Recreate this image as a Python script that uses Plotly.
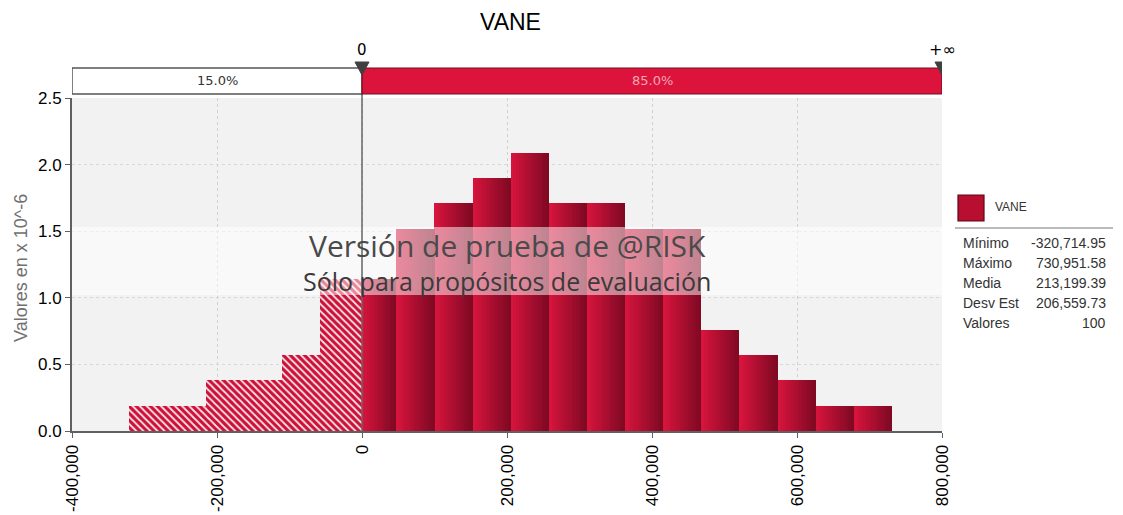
import plotly.graph_objects as go

# ---------------- data ----------------
title_text = "VANE"
stat_min = -320714.95
stat_max = 730951.58
stat_labels = ["Mínimo", "Máximo", "Media", "Desv Est", "Valores"]
stat_values = ["-320,714.95", "730,951.58", "213,199.39", "206,559.73", "100"]
n_bins = 20
# bar heights (density, in units of 10^-6)
heights = [0.19, 0.19, 0.38, 0.38, 0.57, 1.14, 1.14, 1.52, 1.71, 1.90,
           2.09, 1.71, 1.71, 1.52, 1.52, 0.76, 0.57, 0.38, 0.19, 0.19]
threshold = 0
pct_left = "15.0%"
pct_right = "85.0%"
x_range = [-400000, 800000]
x_ticks = [-400000, -200000, 0, 200000, 400000, 600000, 800000]
y_range = [0, 2.5]
y_ticks = [0.0, 0.5, 1.0, 1.5, 2.0, 2.5]
y_title = "Valores en x 10^-6"
watermark1 = "Versión de prueba de @RISK"
watermark2 = "Sólo para propósitos de evaluación"

# ---------------- layout geometry (page pixels) ----------------
W, H = 1123, 515
OFF = 8  # page body margin offset
L, R, T, B = 72, 942, 98, 431


def pxx(p):
    return (p - L) / (R - L)


def pxy(p):
    return (B - p) / (B - T)


bw = (stat_max - stat_min) / n_bins
edges = [stat_min + i * bw for i in range(n_bins + 1)]

# split bins into hatched (below threshold) and solid (above) segments
hatched, solid = [], []
for i, h in enumerate(heights):
    a, b = edges[i], edges[i + 1]
    if b <= threshold:
        hatched.append((a, b, h))
    elif a >= threshold:
        solid.append((a, b, h))
    else:
        hatched.append((a, threshold, h))
        solid.append((threshold, b, h))

fig = go.Figure()

# gradient solid bars (drawn as vertical strips)
K = 14
c0 = (214, 20, 60)
c1 = (128, 9, 35)
for k in range(K):
    t = k / (K - 1)
    col = "rgb(%d,%d,%d)" % tuple(round(c0[j] + (c1[j] - c0[j]) * t) for j in range(3))
    xs, ws, ys = [], [], []
    for a, b, h in solid:
        sw = (b - a) / K
        xs.append(a + sw * (k + 0.5))
        ws.append(sw * 1.03)
        ys.append(h)
    fig.add_trace(go.Bar(x=xs, y=ys, width=ws, marker=dict(color=col, line=dict(width=0)),
                         showlegend=False, hoverinfo="skip"))

# hatched bars (below threshold)
fig.add_trace(go.Bar(
    x=[(a + b) / 2 for a, b, h in hatched],
    y=[h for a, b, h in hatched],
    width=[b - a for a, b, h in hatched],
    marker=dict(color="#CC1038", line=dict(width=0),
                pattern=dict(shape="\\", fgcolor="white", bgcolor="#CC1038",
                             size=5, solidity=0.35, fgopacity=0.9)),
    showlegend=False, hoverinfo="skip"))

shapes = []
# watermark band
shapes.append(dict(type="rect", xref="paper", yref="paper", x0=0, x1=1,
                   y0=pxy(295), y1=pxy(227), fillcolor="rgba(255,255,255,0.5)",
                   line=dict(width=0), layer="above"))
# threshold vertical line
shapes.append(dict(type="line", xref="x", yref="paper", x0=threshold, x1=threshold,
                   y0=0, y1=pxy(68), line=dict(color="#666666", width=1.5), layer="above"))
# top percentage bar
shapes.append(dict(type="rect", xref="x", yref="paper", x0=x_range[0], x1=threshold,
                   y0=pxy(94), y1=pxy(68), fillcolor="white",
                   line=dict(color="#555555", width=1.5)))
shapes.append(dict(type="rect", xref="x", yref="paper", x0=threshold, x1=x_range[1],
                   y0=pxy(94), y1=pxy(68), fillcolor="#DC143C",
                   line=dict(color="#6E1020", width=1.2)))
# threshold triangles
for xv in [threshold, x_range[1]]:
    shapes.append(dict(type="path", xref="x", yref="paper", xsizemode="pixel", ysizemode="pixel",
                       xanchor=xv, yanchor=pxy(62),
                       path="M -7,0 L 7,0 L 0,-13 Z", fillcolor="#404040",
                       line=dict(color="#404040", width=1)))
# legend icon
shapes.append(dict(type="rect", xref="paper", yref="paper", x0=pxx(958), x1=pxx(984),
                   y0=pxy(221), y1=pxy(195), fillcolor="#B80F30",
                   line=dict(color="#5A0814", width=1.2)))
# legend separator
shapes.append(dict(type="line", xref="paper", yref="paper", x0=pxx(955), x1=pxx(1113),
                   y0=pxy(228), y1=pxy(228), line=dict(color="#BBBBBB", width=2)))


def A(text, x, y, size, color, family="Liberation Sans", xanchor="center", xref="paper", angle=0):
    return dict(text=text, xref=xref, yref="paper", x=x, y=y, xanchor=xanchor, yanchor="middle",
                textangle=angle, showarrow=False, font=dict(family=family, size=size, color=color))


ann = []
ann.append(A(title_text, pxx(510), pxy(22), 23, "black"))
ann.append(A(pct_left, (x_range[0] + threshold) / 2, pxy(81), 13, "#333333", "DejaVu Sans", xref="x"))
ann.append(A(pct_right, (threshold + x_range[1]) / 2, pxy(81), 13, "#F4A6B6", "DejaVu Sans", xref="x"))
ann.append(A("0", threshold, pxy(50), 15, "black", "DejaVu Sans", xref="x"))
ann.append(A("+∞", x_range[1], pxy(50), 16, "black", "DejaVu Sans", xref="x"))
ann.append(A(watermark1, 0.5, pxy(245), 30, "#4A4A4A", "Open Sans"))
ann.append(A(watermark2, 0.5, pxy(281), 25, "#3A3A3A", "Open Sans"))
ann.append(A(title_text, pxx(993), pxy(207), 12, "#333333", xanchor="left"))
ann.append(A(y_title, pxx(21), pxy(268), 18, "#707070", angle=-90))
for i, (lab, val) in enumerate(zip(stat_labels, stat_values)):
    yy = pxy(243 + i * 20)
    ann.append(A(lab, pxx(961), yy, 14, "#333333", xanchor="left"))
    ann.append(A(val, pxx(1108), yy, 14, "#333333", xanchor="right"))

fig.update_layout(
    width=W, height=H,
    margin=dict(l=L - OFF, r=W - (R - OFF), t=T - OFF, b=H - (B - OFF), pad=0),
    paper_bgcolor="white", plot_bgcolor="#F2F2F2",
    barmode="overlay", bargap=0,
    shapes=shapes, annotations=ann,
    font=dict(family="Liberation Sans", size=17, color="black"),
    xaxis=dict(range=x_range, tickvals=x_ticks, ticktext=[f"{v:,}" for v in x_ticks],
               tickangle=-90, showgrid=True, gridcolor="#D0D0D0", griddash="dot", gridwidth=1,
               zeroline=False, showline=True, linecolor="#606060", linewidth=2,
               ticks="outside", ticklen=5, tickcolor="#606060", automargin=False,
               tickfont=dict(family="Liberation Sans", size=17, color="black")),
    yaxis=dict(range=y_range, tickvals=y_ticks, ticktext=[f"{v:.1f}" for v in y_ticks],
               showgrid=True, gridcolor="#D8D8D8", griddash="dot", gridwidth=1,
               zeroline=False, showline=True, linecolor="#606060", linewidth=2,
               ticks="outside", ticklen=5, tickcolor="#606060", automargin=False,
               tickfont=dict(family="Liberation Sans", size=17, color="black")),
)

fig.write_html("out.html")
